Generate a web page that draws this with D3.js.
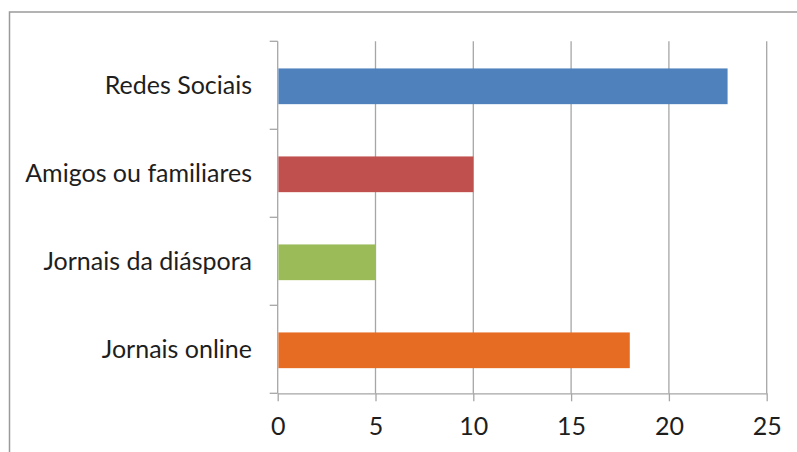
<!DOCTYPE html>
<html>
  <head>
    <meta charset="utf-8" />
    <script src="https://cdn.jsdelivr.net/npm/d3@7/dist/d3.min.js"></script>
    <style>
      body {
        margin: 0;
        background: white;
      }
      svg text {
        font-family: Lato, "Open Sans", sans-serif;
        fill: #1e1e1e;
      }
    </style>
  </head>
  <body>
    <svg id="chart"></svg>
    <script type="text/javascript">
      // data
      const categories = [
        "Redes Sociais",
        "Amigos ou familiares",
        "Jornais da diáspora",
        "Jornais online"
      ];
      const values = [23, 10, 5, 18];
      const colors = ["#4F81BD", "#C0504D", "#9BBB59", "#E66C24"];
      const xTicks = [0, 5, 10, 15, 20, 25];

      const width = 797,
        height = 452;

      const plotTop = 41.3,
        plotBottom = 393.3,
        gridColor = "#a6a6a6";

      const svg = d3
        .select("#chart")
        .attr("width", width)
        .attr("height", height);

      // chart frame (cut off at right and bottom in the original)
      svg
        .append("rect")
        .attr("x", 9.5)
        .attr("y", 12)
        .attr("width", 820)
        .attr("height", 480)
        .style("fill", "none")
        .style("stroke", "#9a9a9a")
        .style("stroke-width", 1.5);

      const x = d3.scaleLinear().domain([0, 25]).range([277.7, 766.7]);
      const y = d3
        .scaleBand()
        .domain(categories)
        .range([plotTop, plotBottom])
        .paddingInner(0.594)
        .paddingOuter(0.297);

      // vertical gridlines
      svg
        .append("g")
        .attr("class", "grid")
        .selectAll("line")
        .data(xTicks.slice(1))
        .enter()
        .append("line")
        .attr("x1", d => x(d))
        .attr("x2", d => x(d))
        .attr("y1", plotTop)
        .attr("y2", plotBottom)
        .style("stroke", gridColor)
        .style("stroke-width", 1.3);

      // x axis
      const xAxis = d3
        .axisBottom(x)
        .tickValues(xTicks)
        .tickSizeInner(8)
        .tickSizeOuter(0)
        .tickPadding(16);

      const xg = svg
        .append("g")
        .attr("class", "x-axis")
        .attr("transform", `translate(0,${plotBottom})`)
        .call(xAxis);

      xg.selectAll("text")
        .style("font-family", "Lato, sans-serif")
        .style("font-size", "25px")
        .style("fill", "#1e1e1e");

      // y axis: Excel puts the ticks between the categories
      const step = y.step();
      const yBoundaries = d3
        .range(categories.length + 1)
        .map(i => plotTop + i * step);

      const yg = svg.append("g").attr("class", "y-axis");
      yg.append("line")
        .attr("x1", x(0))
        .attr("x2", x(0))
        .attr("y1", plotTop)
        .attr("y2", plotBottom);
      yg.selectAll("line.tick")
        .data(yBoundaries)
        .enter()
        .append("line")
        .attr("class", "tick")
        .attr("x1", x(0) - 8)
        .attr("x2", x(0))
        .attr("y1", d => d)
        .attr("y2", d => d);

      svg
        .selectAll(".x-axis path, .x-axis line, .y-axis line")
        .style("stroke", gridColor)
        .style("stroke-width", 1.3);

      // bars
      svg
        .append("g")
        .selectAll("rect")
        .data(categories)
        .enter()
        .append("rect")
        .attr("x", x(0) + 0.7)
        .attr("y", d => y(d) + 1)
        .attr("width", (d, i) => x(values[i]) - x(0) - 0.7)
        .attr("height", y.bandwidth())
        .style("fill", (d, i) => colors[i]);

      // category labels
      svg
        .append("g")
        .selectAll("text")
        .data(categories)
        .enter()
        .append("text")
        .attr("x", 252)
        .attr("y", d => y(d) + y.bandwidth() / 2)
        .attr("dy", "0.35em")
        .attr("text-anchor", "end")
        .style("font-size", "25px")
        .text(d => d);
    </script>
  </body>
</html>
